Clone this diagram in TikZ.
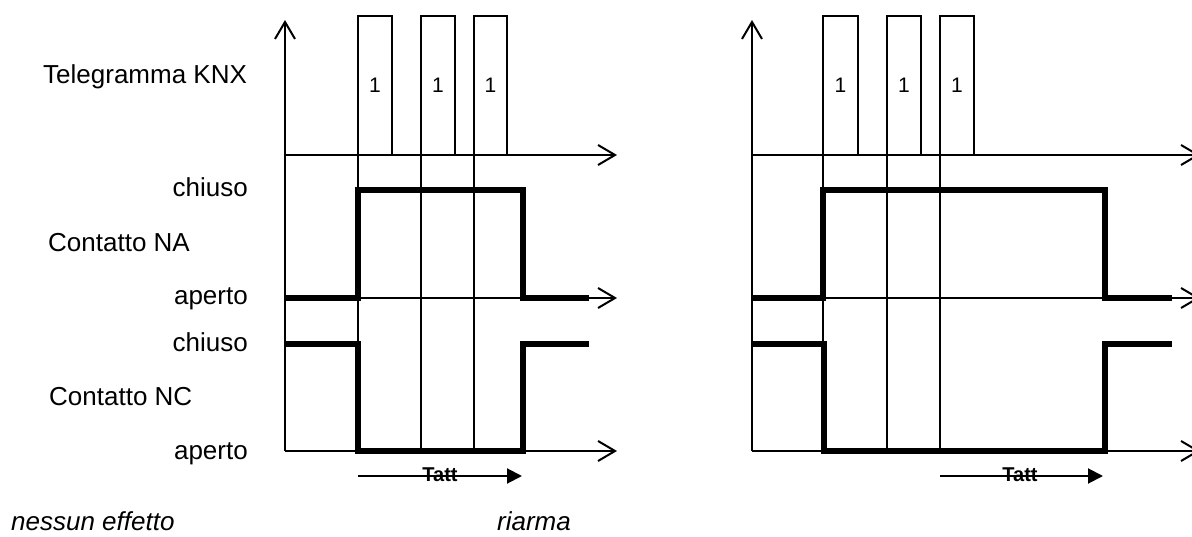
\documentclass[tikz,border=0pt]{standalone}
\usepackage{fontspec}
\setmainfont{Liberation Sans}
\usetikzlibrary{arrows.meta}
\begin{document}
\begin{tikzpicture}[x=1pt,y=-1pt,
  axis/.style={line width=2pt,-{Straight Barb[length=17pt,width=20pt,line width=2pt]}},
  pulse/.style={draw,line width=2pt,rectangle,inner sep=0pt,outer sep=0pt,
    minimum height=139pt,font=\fontsize{21}{25}\selectfont},
  tline/.style={line width=1.5pt},
  sig/.style={line width=6.7pt,line join=miter},
  tatt/.style={line width=2pt,-{Triangle[length=15pt,width=15pt]}},
  tattlbl/.style={inner sep=0pt,font=\fontsize{20}{24}\selectfont\bfseries},
  lab/.style={inner sep=0pt,font=\fontsize{26}{31}\selectfont},
  note/.style={inner sep=0pt,font=\fontsize{26}{31}\selectfont\itshape}]
\clip (0,0) rectangle (1192,537);

% row labels
\node[lab,anchor=base west] (tele) at (43,84) {Telegramma KNX};
\node[lab,anchor=base east] (naclosed) at (248,197) {chiuso};
\node[lab,anchor=base west] (na) at (48,252) {Contatto NA};
\node[lab,anchor=base east] (naopen) at (248,305) {aperto};
\node[lab,anchor=base east] (ncclosed) at (248,352) {chiuso};
\node[lab,anchor=base west] (nc) at (49,406) {Contatto NC};
\node[lab,anchor=base east] (ncopen) at (248,459) {aperto};
\node[note,anchor=base west] (noeffect) at (11,530) {nessun effetto};
\node[note,anchor=base west] (rearm) at (497,530) {riarma};

% ---------- left chart: no effect ----------
\coordinate (La0) at (285,451);
\coordinate (Lay) at (285,20);
\coordinate (Lt0) at (285,155);
\coordinate (Lt1) at (617,155);
\coordinate (Ln0) at (285,298);
\coordinate (Ln1) at (617,298);
\coordinate (Lc1) at (617,451);
\draw[axis] (La0) -- (Lay);
\draw[axis] (Lt0) -- (Lt1);
\draw[axis] (Ln0) -- (Ln1);
\draw[axis] (La0) -- (Lc1);

\node[pulse,minimum width=34pt] (L1) at (375,85.5) {1};
\node[pulse,minimum width=34pt] (L2) at (438,85.5) {1};
\node[pulse,minimum width=33pt] (L3) at (490.5,85.5) {1};
\foreach \p in {L1,L2,L3}
  \draw[tline] (\p.south west) -- ++(0,296);

\draw[sig] (285,298) -- (358,298) -- (358,190) -- (523,190) -- (523,298) -- (589,298);
\draw[sig] (285,344) -- (358,344) -- (358,451) -- (523,451) -- (523,344) -- (589,344);

\coordinate (Ls) at (358,476);
\coordinate (Le) at (522,476);
\draw[tatt] (Ls) -- (Le);
\node[tattlbl] (Ltatt) at (440,475) {Tatt};

% ---------- right chart: re-arm ----------
\coordinate (Ra0) at (752,451);
\coordinate (Ray) at (752,20);
\coordinate (Rt0) at (752,155);
\coordinate (Rt1) at (1200,155);
\coordinate (Rn0) at (752,298);
\coordinate (Rn1) at (1200,298);
\coordinate (Rc1) at (1200,451);
\draw[axis] (Ra0) -- (Ray);
\draw[axis] (Rt0) -- (Rt1);
\draw[axis] (Rn0) -- (Rn1);
\draw[axis] (Ra0) -- (Rc1);

\node[pulse,minimum width=35pt] (R1) at (840.5,85.5) {1};
\node[pulse,minimum width=34pt] (R2) at (904,85.5) {1};
\node[pulse,minimum width=34pt] (R3) at (957,85.5) {1};
\foreach \p in {R1,R2,R3}
  \draw[tline] (\p.south west) -- ++(0,296);

\draw[sig] (752,298) -- (823,298) -- (823,190) -- (1105,190) -- (1105,298) -- (1172,298);
\draw[sig] (752,344) -- (824,344) -- (824,451) -- (1105,451) -- (1105,344) -- (1172,344);

\coordinate (Rs) at (940,476);
\coordinate (Re) at (1103,476);
\draw[tatt] (Rs) -- (Re);
\node[tattlbl] (Rtatt) at (1020,475) {Tatt};
\end{tikzpicture}
\end{document}
